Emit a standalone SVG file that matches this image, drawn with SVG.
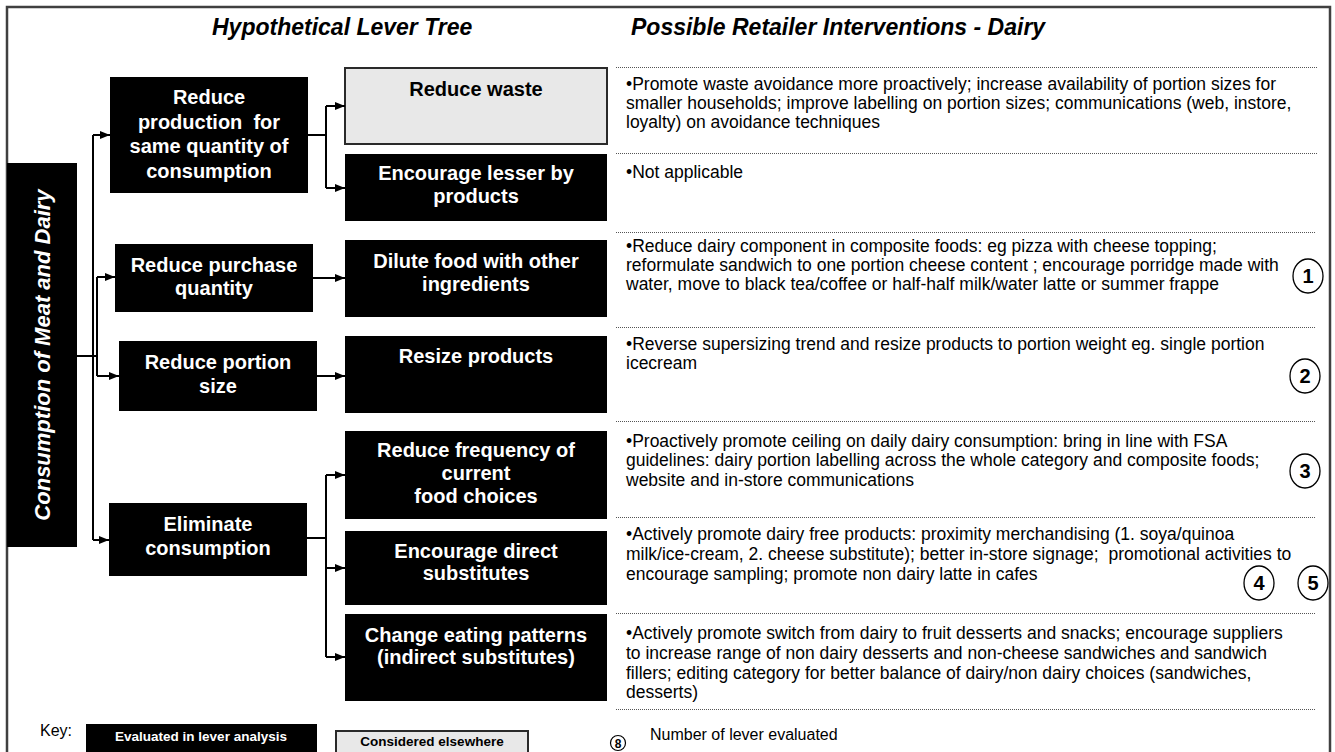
<svg xmlns="http://www.w3.org/2000/svg" width="1335" height="752" viewBox="0 0 1335 752">
<defs>
<marker id="ah" viewBox="0 0 10 8" refX="10" refY="4" markerWidth="10" markerHeight="8" markerUnits="userSpaceOnUse" orient="auto"><path d="M0,0 L10,4 L0,8 z" fill="#000"/></marker>
<style>
.blk{fill:#000}
.gry{fill:#e8e8e8;stroke:#2a2a2a;stroke-width:2}
.bt{font-family:"Liberation Sans",Arial,sans-serif;font-weight:bold;font-size:20px;fill:#fff;text-anchor:middle;white-space:pre}
.bt2{font-family:"Liberation Sans",Arial,sans-serif;font-weight:bold;font-size:20px;fill:#000;text-anchor:middle}
.hd{font-family:"Liberation Sans",Arial,sans-serif;font-weight:bold;font-style:italic;font-size:23px;fill:#000}
.rt{font-family:"Liberation Sans",Arial,sans-serif;font-size:17.5px;fill:#000;white-space:pre}
.dot{stroke:#555;stroke-width:1;stroke-dasharray:1 1;fill:none}
.con path{stroke:#000;stroke-width:2;fill:none}
.num{fill:#fff;stroke:#000;stroke-width:1.3}
.nt{font-family:"Liberation Sans",Arial,sans-serif;font-weight:bold;font-size:20px;fill:#000;text-anchor:middle}
.kt{font-family:"Liberation Sans",Arial,sans-serif;font-size:16px;fill:#000}
.kb{font-family:"Liberation Sans",Arial,sans-serif;font-weight:bold;font-size:13.5px;text-anchor:middle}
</style>
</defs>
<rect x="0" y="0" width="1335" height="752" fill="#fff"/>
<rect x="7" y="7" width="1323" height="770" fill="none" stroke="#404040" stroke-width="2.5"/>

<text class="hd" x="212" y="35">Hypothetical Lever Tree</text>
<text class="hd" x="631" y="35">Possible Retailer Interventions - Dairy</text>

<g id="root">
<rect class="blk" x="7" y="163" width="70" height="384"/>
<text class="bt" transform="translate(50,355) rotate(-90)" style="font-size:22px;font-style:italic">Consumption of Meat and Dairy</text>
</g>

<g id="n-production">
<rect class="blk" x="110" y="77" width="198" height="116"/>
<text class="bt" x="209" y="104">Reduce</text>
<text class="bt" x="209" y="128.5">production  for</text>
<text class="bt" x="209" y="153">same quantity of</text>
<text class="bt" x="209" y="177.5">consumption</text>
</g>
<g id="n-purchase">
<rect class="blk" x="115" y="244" width="198" height="68"/>
<text class="bt" x="214" y="272">Reduce purchase</text>
<text class="bt" x="214" y="295">quantity</text>
</g>
<g id="n-portion">
<rect class="blk" x="119" y="341" width="198" height="70"/>
<text class="bt" x="218" y="369">Reduce portion</text>
<text class="bt" x="218" y="393">size</text>
</g>
<g id="n-eliminate">
<rect class="blk" x="109" y="503" width="198" height="73"/>
<text class="bt" x="208" y="531">Eliminate</text>
<text class="bt" x="208" y="555">consumption</text>
</g>

<g id="n-waste">
<rect class="gry" x="345" y="68" width="262" height="76"/>
<text class="bt2" x="476" y="96">Reduce waste</text>
</g>
<g id="n-byproducts">
<rect class="blk" x="345" y="154" width="262" height="67"/>
<text class="bt" x="476" y="180">Encourage lesser by</text>
<text class="bt" x="476" y="203">products</text>
</g>
<g id="n-dilute">
<rect class="blk" x="345" y="240" width="262" height="77"/>
<text class="bt" x="476" y="268">Dilute food with other</text>
<text class="bt" x="476" y="291">ingredients</text>
</g>
<g id="n-resize">
<rect class="blk" x="345" y="336" width="262" height="77"/>
<text class="bt" x="476" y="363">Resize products</text>
</g>
<g id="n-frequency">
<rect class="blk" x="345" y="431" width="262" height="88"/>
<text class="bt" x="476" y="457">Reduce frequency of</text>
<text class="bt" x="476" y="480">current</text>
<text class="bt" x="476" y="503">food choices</text>
</g>
<g id="n-direct">
<rect class="blk" x="345" y="531" width="262" height="74"/>
<text class="bt" x="476" y="558">Encourage direct</text>
<text class="bt" x="476" y="580">substitutes</text>
</g>
<g id="n-indirect">
<rect class="blk" x="345" y="614" width="262" height="87"/>
<text class="bt" x="476" y="642">Change eating patterns</text>
<text class="bt" x="476" y="664">(indirect substitutes)</text>
</g>

<g id="connectors" class="con">
<path d="M77,356 H97"/>
<path d="M93,135 V540"/>
<path d="M93,135 H110" marker-end="url(#ah)"/>
<path d="M93,540 H109" marker-end="url(#ah)"/>
<path d="M97,277 V376"/>
<path d="M97,277 H115" marker-end="url(#ah)"/>
<path d="M97,376 H119" marker-end="url(#ah)"/>
<path d="M308,135 H326"/>
<path d="M326,106 V188"/>
<path d="M326,106 H345" marker-end="url(#ah)"/>
<path d="M326,188 H345" marker-end="url(#ah)"/>
<path d="M313,278 H345" marker-end="url(#ah)"/>
<path d="M317,376 H345" marker-end="url(#ah)"/>
<path d="M307,538 H326"/>
<path d="M326,475 V657"/>
<path d="M326,475 H345" marker-end="url(#ah)"/>
<path d="M326,568 H345" marker-end="url(#ah)"/>
<path d="M326,657 H345" marker-end="url(#ah)"/>
</g>

<g id="separators">
<line class="dot" x1="616" y1="67.5" x2="1318" y2="67.5"/>
<line class="dot" x1="616" y1="153.5" x2="1318" y2="153.5"/>
<line class="dot" x1="616" y1="232.5" x2="1316" y2="232.5"/>
<line class="dot" x1="616" y1="327.5" x2="1316" y2="327.5"/>
<line class="dot" x1="616" y1="421.5" x2="1316" y2="421.5"/>
<line class="dot" x1="616" y1="517.5" x2="1316" y2="517.5"/>
<line class="dot" x1="616" y1="613.5" x2="1316" y2="613.5"/>
<line class="dot" x1="616" y1="709.5" x2="1316" y2="709.5"/>
</g>

<g id="interventions">
<text class="rt" x="626" y="90">•Promote waste avoidance more proactively; increase availability of portion sizes for</text>
<text class="rt" x="626" y="109">smaller households; improve labelling on portion sizes; communications (web, instore,</text>
<text class="rt" x="626" y="128">loyalty) on avoidance techniques</text>
<text class="rt" x="626" y="178">•Not applicable</text>
<text class="rt" x="626" y="252">•Reduce dairy component in composite foods: eg pizza with cheese topping;</text>
<text class="rt" x="626" y="271">reformulate sandwich to one portion cheese content ; encourage porridge made with</text>
<text class="rt" x="626" y="290">water, move to black tea/coffee or half-half milk/water latte or summer frappe</text>
<text class="rt" x="626" y="350">•Reverse supersizing trend and resize products to portion weight eg. single portion</text>
<text class="rt" x="626" y="369">icecream</text>
<text class="rt" x="626" y="447">•Proactively promote ceiling on daily dairy consumption: bring in line with FSA</text>
<text class="rt" x="626" y="466">guidelines: dairy portion labelling across the whole category and composite foods;</text>
<text class="rt" x="626" y="486">website and in-store communications</text>
<text class="rt" x="626" y="540">•Actively promote dairy free products: proximity merchandising (1. soya/quinoa</text>
<text class="rt" x="626" y="560">milk/ice-cream, 2. cheese substitute); better in-store signage;  promotional activities to</text>
<text class="rt" x="626" y="580">encourage sampling; promote non dairy latte in cafes</text>
<text class="rt" x="626" y="639">•Actively promote switch from dairy to fruit desserts and snacks; encourage suppliers</text>
<text class="rt" x="626" y="659">to increase range of non dairy desserts and non-cheese sandwiches and sandwich</text>
<text class="rt" x="626" y="679">fillers; editing category for better balance of dairy/non dairy choices (sandwiches,</text>
<text class="rt" x="626" y="698">desserts)</text>
</g>

<g id="lever-numbers">
<ellipse class="num" cx="1308" cy="276" rx="15" ry="17"/><text class="nt" x="1308" y="283">1</text>
<ellipse class="num" cx="1305" cy="376" rx="15" ry="17"/><text class="nt" x="1305" y="383">2</text>
<ellipse class="num" cx="1305" cy="471" rx="15" ry="17"/><text class="nt" x="1305" y="478">3</text>
<ellipse class="num" cx="1259" cy="583" rx="15" ry="17"/><text class="nt" x="1259" y="590">4</text>
<ellipse class="num" cx="1313" cy="583" rx="15" ry="17"/><text class="nt" x="1313" y="590">5</text>
</g>

<g id="key">
<text class="kt" x="40" y="736">Key:</text>
<rect class="blk" x="86" y="724" width="231" height="40"/>
<text class="kb" x="201" y="741" fill="#fff">Evaluated in lever analysis</text>
<rect class="gry" x="336" y="731" width="192" height="40"/>
<text class="kb" x="432" y="746" fill="#000">Considered elsewhere</text>
<circle cx="618" cy="743" r="7.5" fill="#fff" stroke="#000" stroke-width="1.2"/>
<text x="618" y="747.5" style="font-family:'Liberation Sans',Arial,sans-serif;font-weight:bold;font-size:12px;text-anchor:middle">8</text>
<text class="kt" x="650" y="740">Number of lever evaluated</text>
</g>
</svg>
